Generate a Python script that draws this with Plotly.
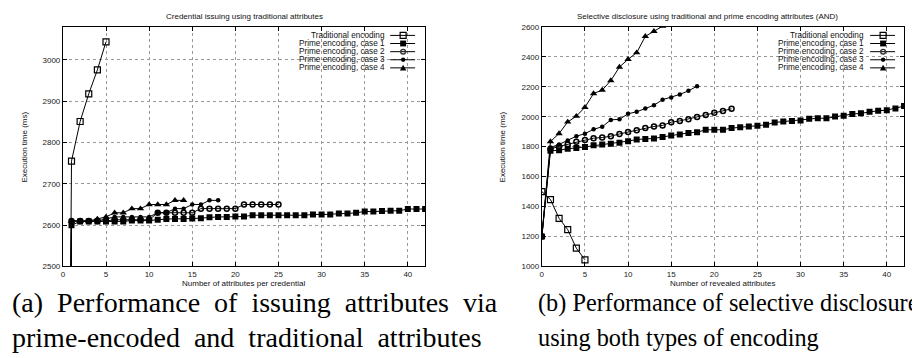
import plotly.graph_objects as go

W, H = 920, 358

# ---------------- data ----------------
series_names = ["Traditional encoding", "Prime encoding, case 1", "Prime encoding, case 2",
                "Prime encoding, case 3", "Prime encoding, case 4"]

# (a) Credential issuing
a_trad_x = [0, 1, 2, 3, 4, 5]
a_trad_y = [0, 2755, 2851, 2918, 2976, 3044]
a_c1_x = list(range(0, 43))
a_c1_y = [0, 2600, 2609, 2609, 2609, 2609, 2609, 2609, 2611, 2611, 2611, 2613, 2615, 2615,
          2615, 2616, 2617, 2619, 2620, 2620, 2621, 2621, 2624, 2624, 2624, 2624, 2624, 2624,
          2624, 2626, 2626, 2626, 2628, 2628, 2630, 2633, 2633, 2634, 2635, 2635, 2639, 2639, 2639]
a_c2_x = list(range(0, 26))
a_c2_y = [0, 2610, 2610, 2610, 2610, 2610, 2613, 2613, 2613, 2613, 2613, 2630, 2630, 2630,
          2630, 2630, 2640, 2640, 2640, 2640, 2640, 2650, 2650, 2650, 2650, 2650]
a_c3_x = list(range(0, 19))
a_c3_y = [0, 2610, 2610, 2610, 2610, 2615, 2620, 2620, 2620, 2620, 2620, 2630, 2630, 2640,
          2640, 2650, 2650, 2660, 2660]
a_c4_x = list(range(0, 15))
a_c4_y = [0, 2610, 2610, 2610, 2615, 2620, 2630, 2630, 2640, 2640, 2650, 2650, 2650, 2660, 2660]

# (b) Selective disclosure
b_trad_x = [0, 1, 2, 3, 4, 5]
b_trad_y = [1500, 1447, 1321, 1246, 1122, 1044]
b_c1_x = list(range(0, 43))
b_c1_y = [1200, 1772, 1776, 1787, 1791, 1798, 1809, 1815, 1820, 1826, 1837, 1848, 1852, 1855,
          1865, 1874, 1881, 1892, 1896, 1913, 1913, 1913, 1924, 1929, 1935, 1940, 1946, 1962,
          1968, 1972, 1975, 1986, 1990, 1990, 2001, 2007, 2018, 2023, 2034, 2040, 2044, 2055, 2071]
b_c2_x = list(range(0, 23))
b_c2_y = [1200, 1785, 1802, 1815, 1833, 1844, 1857, 1861, 1870, 1885, 1898, 1909, 1924, 1935,
          1942, 1964, 1972, 1983, 1999, 2012, 2027, 2038, 2053]
b_c3_x = list(range(0, 19))
b_c3_y = [1200, 1795, 1815, 1841, 1870, 1887, 1916, 1933, 1979, 1983, 2020, 2033, 2055, 2077,
          2114, 2129, 2149, 2173, 2204]
b_c4_x = list(range(0, 15))
b_c4_y = [1200, 1834, 1888, 1965, 2004, 2063, 2155, 2178, 2242, 2332, 2384, 2428, 2537, 2571, 2605]

title_a = "Credential issuing using traditional attributes"
title_b = "Selective disclosure using traditional and prime encoding attributes (AND)"
xlabel_a = "Number of attributes per credential"
xlabel_b = "Number of revealed attributes"
ylabel = "Execution time (ms)"
caption_a = ["(a) Performance of issuing attributes via", "prime-encoded and traditional attributes"]
caption_b = ["(b) Performance of selective disclosure", "using both types of encoding"]

# ---------------- styling ----------------
styles = [
    dict(symbol="square-open", size=6, line=dict(width=1.2, color="black")),
    dict(symbol="square", size=6, line=dict(width=0, color="black")),
    dict(symbol="circle-open", size=5, line=dict(width=1.5, color="#333")),
    dict(symbol="circle", size=4.5, line=dict(width=0, color="black")),
    dict(symbol="triangle-up", size=6.5, line=dict(width=0, color="black")),
]


def px(x):
    return x / W


def py(y):
    return 1 - y / H


fig = go.Figure()
groups = [
    ("x", "y", [(a_trad_x, a_trad_y), (a_c1_x, a_c1_y), (a_c2_x, a_c2_y), (a_c3_x, a_c3_y), (a_c4_x, a_c4_y)]),
    ("x2", "y2", [(b_trad_x, b_trad_y), (b_c1_x, b_c1_y), (b_c2_x, b_c2_y), (b_c3_x, b_c3_y), (b_c4_x, b_c4_y)]),
]
for xa, ya, data in groups:
    for i, (xs, ys) in enumerate(data):
        st = styles[i]
        fig.add_trace(go.Scatter(
            x=xs, y=ys, mode="lines+markers", name=series_names[i], showlegend=False,
            xaxis=xa, yaxis=ya,
            line=dict(color="black", width=1),
            marker=dict(symbol=st["symbol"], size=st["size"], color="black", line=st["line"]),
        ))

tickfont = dict(family="Liberation Sans, Arial, sans-serif", size=8, color="#222")
axis_common = dict(
    ticks="inside", ticklen=4, tickcolor="black", tickwidth=1, mirror="allticks",
    showline=True, linecolor="black", linewidth=1,
    showgrid=True, gridcolor="#999999", griddash="dot", gridwidth=1,
    zeroline=False, tickfont=tickfont,
)

top, bottom = 15.3, 261
fig.update_layout(
    width=W, height=H, margin=dict(l=0, r=0, t=0, b=0),
    paper_bgcolor="white", plot_bgcolor="white",
    xaxis=dict(domain=[px(53), px(416)], anchor="y", range=[0, 42], tick0=0, dtick=5, **axis_common),
    yaxis=dict(domain=[py(bottom), py(top)], anchor="x", range=[2500, 3080], tick0=2500, dtick=100, **axis_common),
    xaxis2=dict(domain=[px(533), px(896)], anchor="y2", range=[0, 42], tick0=0, dtick=5, **axis_common),
    yaxis2=dict(domain=[py(bottom), py(top)], anchor="x2", range=[1000, 2600], tick0=1000, dtick=200, **axis_common),
    showlegend=False,
)

small = dict(family="Liberation Sans, Arial, sans-serif", size=8, color="#111")
ann = []
shapes = []

# titles
ann.append(dict(text=title_a, x=px(234.7), y=py(5), xref="paper", yref="paper",
                xanchor="center", yanchor="middle", showarrow=False, font=small))
ann.append(dict(text=title_b, x=px(699), y=py(5), xref="paper", yref="paper",
                xanchor="center", yanchor="middle", showarrow=False, font=small))
# axis titles
ann.append(dict(text=xlabel_a, x=px(234.5), y=py(279), xref="paper", yref="paper",
                xanchor="center", yanchor="middle", showarrow=False, font=small))
ann.append(dict(text=xlabel_b, x=px(714.5), y=py(279), xref="paper", yref="paper",
                xanchor="center", yanchor="middle", showarrow=False, font=small))
ann.append(dict(text=ylabel, x=px(15), y=py(138), xref="paper", yref="paper", textangle=-90,
                xanchor="center", yanchor="middle", showarrow=False, font=small))
ann.append(dict(text=ylabel, x=px(494), y=py(138), xref="paper", yref="paper", textangle=-90,
                xanchor="center", yanchor="middle", showarrow=False, font=small))

# legends (gnuplot style: text right aligned, sample to the right)
rows = [24, 32.3, 40.7, 49, 57.3]
legfont = dict(family="Liberation Sans, Arial, sans-serif", size=8.2, color="#111")


def add_legend(text_right, l0, l1, xm):
    for i, name in enumerate(series_names):
        yy = rows[i]
        ann.append(dict(text=name, x=px(text_right), y=py(yy), xref="paper", yref="paper",
                        xanchor="right", yanchor="middle", showarrow=False, font=legfont))
        shapes.append(dict(type="line", xref="paper", yref="paper", x0=px(l0), x1=px(l1),
                           y0=py(yy), y1=py(yy), line=dict(color="black", width=1)))
        s = 3.0
        if i == 0:
            shapes.append(dict(type="rect", xref="paper", yref="paper", x0=px(xm - s), x1=px(xm + s),
                               y0=py(yy + s), y1=py(yy - s), line=dict(color="black", width=1.2),
                               fillcolor="rgba(0,0,0,0)"))
        elif i == 1:
            shapes.append(dict(type="rect", xref="paper", yref="paper", x0=px(xm - s), x1=px(xm + s),
                               y0=py(yy + s), y1=py(yy - s), line=dict(color="black", width=0),
                               fillcolor="black"))
        elif i == 2:
            r = 2.4
            shapes.append(dict(type="circle", xref="paper", yref="paper", x0=px(xm - r), x1=px(xm + r),
                               y0=py(yy + r), y1=py(yy - r), line=dict(color="#333", width=1.4),
                               fillcolor="rgba(0,0,0,0)"))
        elif i == 3:
            r = 2.2
            shapes.append(dict(type="circle", xref="paper", yref="paper", x0=px(xm - r), x1=px(xm + r),
                               y0=py(yy + r), y1=py(yy - r), line=dict(color="black", width=0),
                               fillcolor="black"))
        else:
            path = "M {a},{b} L {c},{d} L {e},{f} Z".format(
                a=px(xm - 3.2), b=py(yy + 2.6), c=px(xm + 3.2), d=py(yy + 2.6), e=px(xm), f=py(yy - 3.2))
            shapes.append(dict(type="path", xref="paper", yref="paper", path=path,
                               line=dict(color="black", width=0), fillcolor="black"))


add_legend(378, 381, 406, 394)
add_legend(858.3, 862, 887, 875)

# captions (the source text is justified, so word gaps of (a) are slightly widened)
NB = "\u00a0"
capfont_a = dict(family="Liberation Serif, Times New Roman, serif", size=28, color="black")
capfont_b = dict(family="Liberation Serif, Times New Roman, serif", size=24.3, color="black")
for i, (la, lb) in enumerate(zip(caption_a, caption_b)):
    yy = [298, 334][i]
    ann.append(dict(text=la.replace(" ", " " + NB), x=0, y=py(yy), xref="paper", yref="paper",
                    xanchor="left", yanchor="middle", showarrow=False, font=capfont_a))
    ann.append(dict(text=lb, x=px(527), y=py(yy), xref="paper", yref="paper",
                    xanchor="left", yanchor="middle", showarrow=False, font=capfont_b))

fig.update_layout(annotations=ann, shapes=shapes)
fig.write_html("out.html")
